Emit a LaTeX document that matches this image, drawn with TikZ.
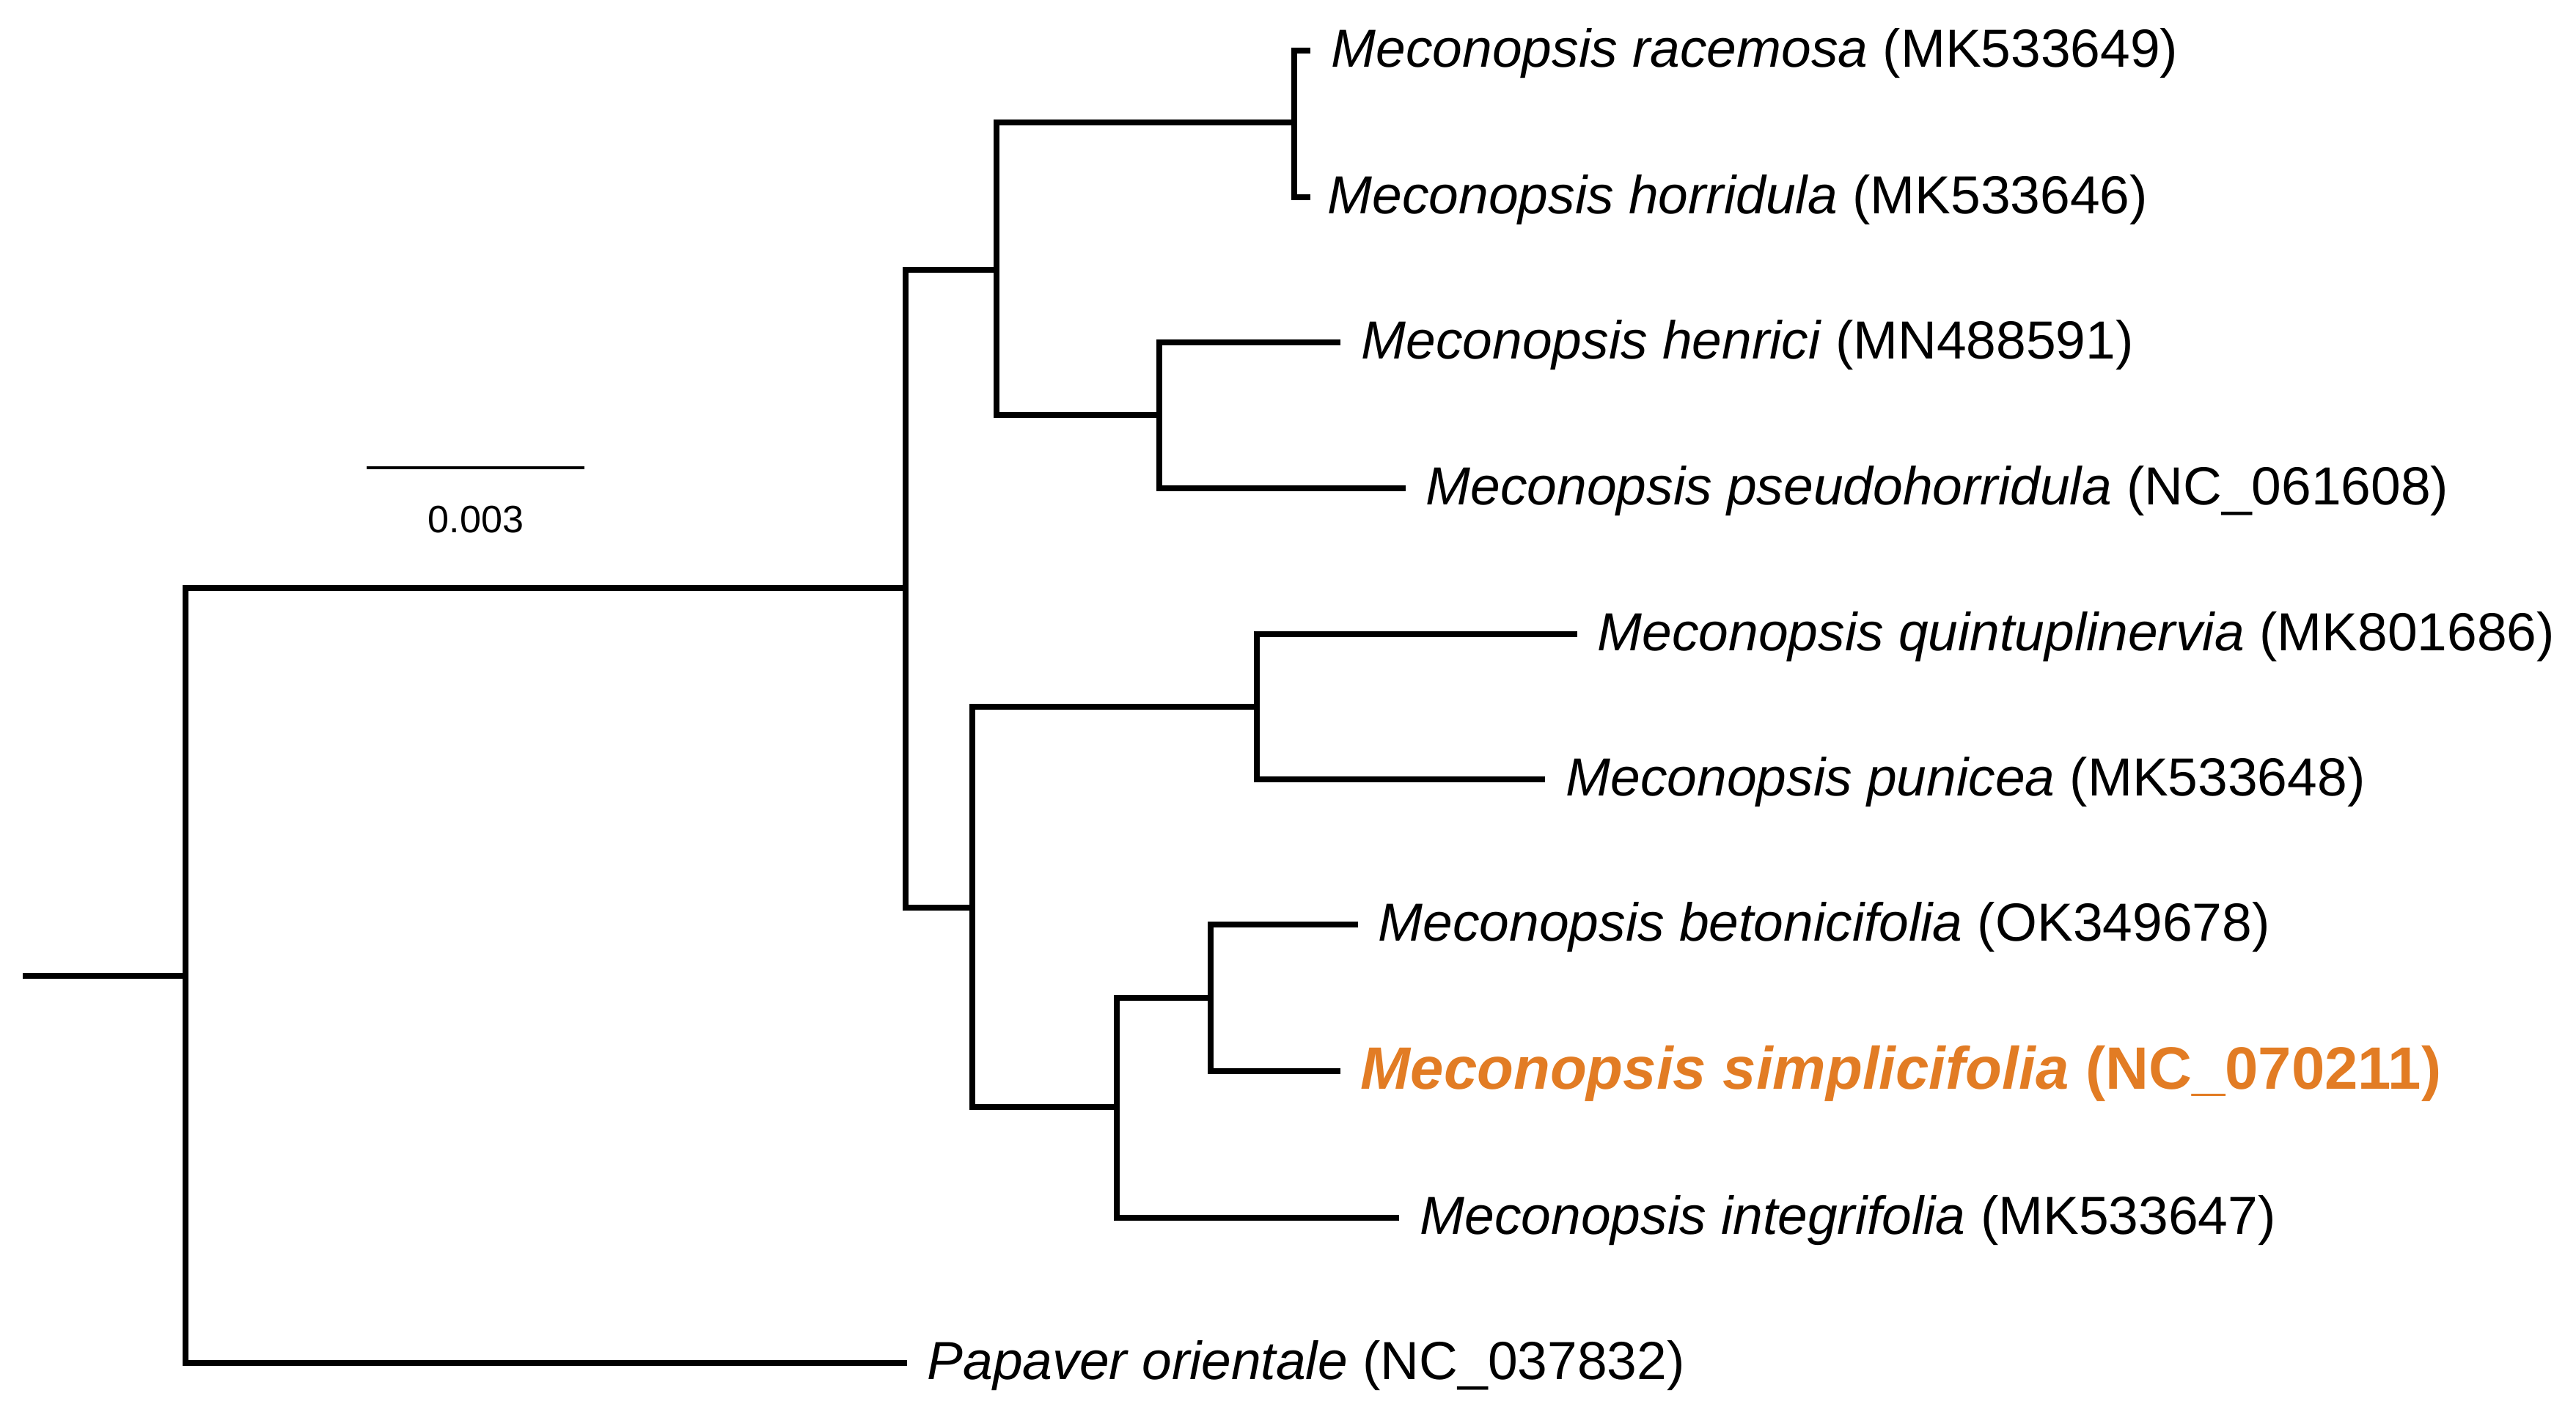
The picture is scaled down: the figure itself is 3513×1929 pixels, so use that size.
\documentclass[tikz,border=0pt]{standalone}
\usepackage{fontspec}
\setmainfont{Liberation Sans}
\definecolor{hl}{RGB}{226,124,36}
\begin{document}
\begin{tikzpicture}[x=0.01cm,y=-0.01cm,
  br/.style={line width=2.3pt,line join=miter,line cap=butt},
  lab/.style={anchor=base west,inner sep=0pt,font=\fontsize{20.8}{24}\selectfont},
  hlab/.style={anchor=base west,inner sep=0pt,text=hl,font=\fontsize{23.2}{26}\selectfont\bfseries}]
\useasboundingbox (0,0) rectangle (3513,1929);
% internal nodes
\coordinate (root0) at (31,1331);
\coordinate (r) at (253,1331);
\coordinate (u) at (1235,802);
\coordinate (A) at (1359,368);
\coordinate (RH) at (1765,167);
\coordinate (HP) at (1581,566);
\coordinate (B) at (1326,1238);
\coordinate (QP) at (1714,964);
\coordinate (C) at (1523,1510);
\coordinate (BS) at (1651,1361);
% tips
\coordinate (t1) at (1787,69);
\coordinate (t2) at (1787,269);
\coordinate (t3) at (1828,467);
\coordinate (t4) at (1917,666);
\coordinate (t5) at (2151,865);
\coordinate (t6) at (2107,1063);
\coordinate (t7) at (1852,1261);
\coordinate (t8) at (1828,1461);
\coordinate (t9) at (1908,1661);
\coordinate (t10) at (1237,1859);
% branches
\draw[br] (root0) -- (r);
\draw[br] (u) -| (r) |- (t10);
\draw[br] (A) -| (u) |- (B);
\draw[br] (RH) -| (A) |- (HP);
\draw[br] (t1) -| (RH) |- (t2);
\draw[br] (t3) -| (HP) |- (t4);
\draw[br] (QP) -| (B) |- (C);
\draw[br] (t5) -| (QP) |- (t6);
\draw[br] (BS) -| (C) |- (t9);
\draw[br] (t7) -| (BS) |- (t8);
% scale bar
\coordinate (s1) at (500,638);
\coordinate (s2) at (797,638);
\draw[line width=1.3pt] (s1) -- (s2);
\node[anchor=base,inner sep=0pt,font=\fontsize{14.8}{17}\selectfont] (sl) at (649,726) {0.003};
% labels
\node[lab] (l1) at (1815,91) {\itshape Meconopsis racemosa\upshape\ (MK533649)};
\node[lab] (l2) at (1810,291) {\itshape Meconopsis horridula\upshape\ (MK533646)};
\node[lab] (l3) at (1856,489) {\itshape Meconopsis henrici\upshape\ (MN488591)};
\node[lab] (l4) at (1944,688) {\itshape Meconopsis pseudohorridula\upshape\ (NC\_061608)};
\node[lab] (l5) at (2178,887) {\itshape Meconopsis quintuplinervia\upshape\ (MK801686)};
\node[lab] (l6) at (2135,1085) {\itshape Meconopsis punicea\upshape\ (MK533648)};
\node[lab] (l7) at (1879,1283) {\itshape Meconopsis betonicifolia\upshape\ (OK349678)};
\node[hlab] (l8) at (1855,1485) {\itshape Meconopsis simplicifolia\upshape\ (NC\_070211)};
\node[lab] (l9) at (1936,1683) {\itshape Meconopsis integrifolia\upshape\ (MK533647)};
\node[lab] (l10) at (1264,1881) {\itshape Papaver orientale\upshape\ (NC\_037832)};
\end{tikzpicture}
\end{document}
